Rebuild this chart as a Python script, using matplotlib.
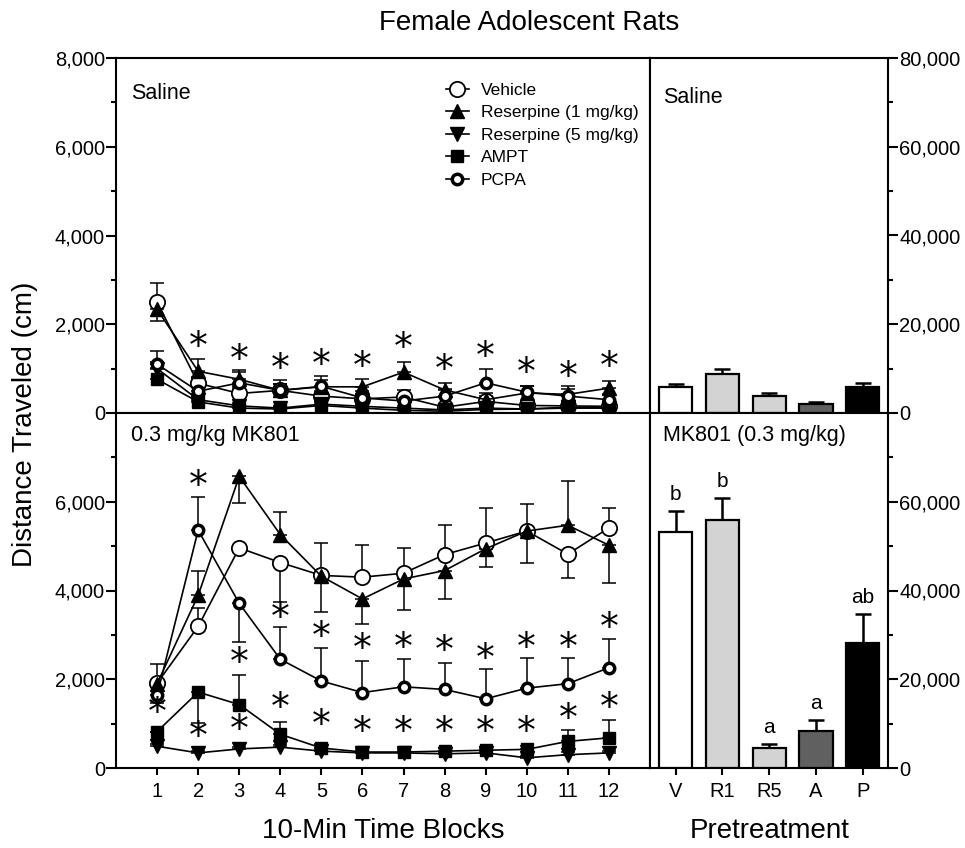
import numpy as np
import matplotlib
matplotlib.use("Agg")
import matplotlib.pyplot as plt
from matplotlib.ticker import FuncFormatter

plt.rcParams['font.family'] = ['Liberation Sans', 'DejaVu Sans']

blocks = np.arange(1, 13)

# saline, line panel
veh_sal = [2500, 670, 440, 510, 380, 320, 360, 130, 260, 170, 160, 150]
r1_sal = [2340, 940, 760, 510, 590, 590, 920, 520, 300, 450, 420, 560]
r5_sal = [1000, 300, 160, 110, 200, 150, 110, 70, 110, 90, 130, 110]
ampt_sal = [760, 250, 110, 90, 170, 110, 60, 40, 80, 90, 110, 110]
pcpa_sal = [1100, 490, 680, 510, 600, 340, 270, 380, 680, 470, 380, 300]

veh_sal_hi = [420, 150, 120, 240, 120, 100, 150, 80, 120, 80, 80, 80]
veh_sal_lo = [0] * 12
r1_sal_hi = [0, 280, 200, 150, 160, 170, 230, 150, 150, 150, 190, 150]
r1_sal_lo = [260, 0, 0, 0, 0, 0, 0, 0, 0, 0, 0, 0]
r5_sal_hi = [150, 80, 60, 50, 60, 50, 40, 40, 50, 40, 50, 40]
ampt_sal_hi = [250, 100, 60, 60, 80, 60, 40, 30, 50, 50, 50, 50]
pcpa_sal_hi = [290, 200, 250, 150, 225, 150, 120, 150, 320, 130, 150, 120]

# MK801, line panel
veh_mk = [1910, 3190, 4960, 4630, 4340, 4300, 4390, 4810, 5070, 5340, 4820, 5410]
r1_mk = [1900, 3890, 6570, 5260, 4320, 3810, 4260, 4450, 4940, 5340, 5470, 5020]
r5_mk = [490, 340, 430, 470, 380, 340, 340, 320, 340, 230, 300, 340]
ampt_mk = [820, 1710, 1430, 760, 450, 360, 360, 380, 400, 420, 600, 680]
pcpa_mk = [1640, 5360, 3710, 2450, 1960, 1700, 1830, 1770, 1560, 1800, 1900, 2260]

veh_mk_hi = [430, 410, 0, 0, 720, 730, 570, 660, 780, 610, 0, 450]
veh_mk_lo = [0, 0, 0, 900, 0, 0, 0, 0, 0, 0, 540, 0]
r1_mk_hi = [0, 540, 0, 500, 0, 0, 0, 0, 0, 0, 990, 0]
r1_mk_lo = [0, 0, 600, 0, 800, 570, 700, 640, 420, 720, 0, 850]
r5_mk_hi = [60, 50, 50, 50, 50, 40, 40, 40, 40, 40, 50, 50]
ampt_mk_hi = [0, 0, 660, 280, 100, 60, 60, 60, 60, 80, 260, 400]
ampt_mk_lo = [0, 690, 0, 0, 0, 0, 0, 0, 0, 0, 0, 0]
pcpa_mk_hi = [0, 750, 0, 720, 740, 720, 620, 600, 660, 670, 570, 640]
pcpa_mk_lo = [170, 0, 880, 0, 0, 0, 0, 0, 0, 0, 0, 0]

# significance stars
star_x_sal = [2, 3, 4, 5, 6, 7, 8, 9, 10, 11, 12]
star_y_sal = [1470, 1170, 980, 1060, 1020, 1440, 940, 1250, 870, 790, 1020]
star_x_mk = [2, 4, 5, 6, 7, 8, 9, 10, 11, 12,
             1, 2, 3, 3, 4, 5, 6, 7, 8, 9, 10, 11, 12]
star_y_mk = [6340, 3360, 2920, 2660, 2690, 2620, 2440, 2690, 2690, 3130,
             1210, 680, 2340, 830, 1320, 940, 790, 790, 790, 800, 800, 1090, 1320]

# totals (bars)
bar_labels = ['V', 'R1', 'R5', 'A', 'P']
sal_bar = [5870, 8720, 3760, 1960, 5870]
sal_err = [750, 1280, 830, 530, 900]
mk_bar = [53200, 55800, 4590, 8270, 28200]
mk_err = [4740, 5110, 900, 2480, 6540]
mk_letters = ['b', 'b', 'a', 'a', 'ab']
bar_colors = ['white', '#d3d3d3', '#d3d3d3', '#606060', 'black']

legend_names = ['Vehicle', 'Reserpine (1 mg/kg)', 'Reserpine (5 mg/kg)', 'AMPT', 'PCPA']

W, H = 965, 848
fig = plt.figure(figsize=(W / 100, H / 100), dpi=100)


def px_axes(x0, y0, x1, y1):
    return fig.add_axes([x0 / W, 1 - y1 / H, (x1 - x0) / W, (y1 - y0) / H])


ax_ts = px_axes(116, 58, 650, 413)
ax_bs = px_axes(116, 413, 650, 768)
ax_tb = px_axes(650, 58, 888, 413)
ax_bb = px_axes(650, 413, 888, 768)

fmt = FuncFormatter(lambda v, p: f'{v:,.0f}')

styles = [
    dict(marker='o', ms=11, mfc='white', mec='black', mew=1.3),
    dict(marker='^', ms=10, mfc='black', mec='black'),
    dict(marker='v', ms=10, mfc='black', mec='black'),
    dict(marker='s', ms=9, mfc='black', mec='black'),
    dict(marker='o', ms=7.5, mfc='white', mec='black', mew=2.5),
]


def draw_lines(ax, series, errs):
    handles = []
    order = [4, 3, 2, 1, 0]
    for i in order:
        lo, hi = errs[i]
        ax.errorbar(blocks, series[i], yerr=[lo, hi], fmt='none', ecolor='black',
                    elinewidth=1.1, capsize=5, capthick=1.1, zorder=2)
    for i in order:
        h, = ax.plot(blocks, series[i], color='black', lw=1.2, zorder=3 + i * 0.01,
                     label=legend_names[i], **styles[i])
        handles.append(h)
    return handles[::-1]


zeros = [0] * 12
h = draw_lines(ax_ts, [veh_sal, r1_sal, r5_sal, ampt_sal, pcpa_sal],
               [(veh_sal_lo, veh_sal_hi), (r1_sal_lo, r1_sal_hi), (zeros, r5_sal_hi),
                (zeros, ampt_sal_hi), (zeros, pcpa_sal_hi)])
draw_lines(ax_bs, [veh_mk, r1_mk, r5_mk, ampt_mk, pcpa_mk],
           [(veh_mk_lo, veh_mk_hi), (r1_mk_lo, r1_mk_hi), (zeros, r5_mk_hi),
            (ampt_mk_lo, ampt_mk_hi), (pcpa_mk_lo, pcpa_mk_hi)])

for sx, sy in zip(star_x_sal, star_y_sal):
    ax_ts.text(sx, sy, '*', ha='center', va='center', fontsize=27,
               family='DejaVu Sans', zorder=5)
for sx, sy in zip(star_x_mk, star_y_mk):
    ax_bs.text(sx, sy, '*', ha='center', va='center', fontsize=27,
               family='DejaVu Sans', zorder=5)

ax_ts.legend(handles=h, loc='upper left', bbox_to_anchor=(0.618, 0.93),
             frameon=False, fontsize=12.5, handlelength=1.3, handletextpad=0.7,
             labelspacing=0.42, borderpad=0, borderaxespad=0)

# bars
xb = np.arange(len(bar_labels))
for ax, vals, errs in [(ax_tb, sal_bar, sal_err), (ax_bb, mk_bar, mk_err)]:
    ax.bar(xb, vals, width=0.71, color=bar_colors, edgecolor='black', linewidth=1.6, zorder=3)
    ax.errorbar(xb, vals, yerr=[[0] * 5, errs], fmt='none', ecolor='black',
                elinewidth=1.8, capsize=6, capthick=1.8, zorder=2)
for x, v, e, t in zip(xb, mk_bar, mk_err, mk_letters):
    ax_bb.annotate(t, (x, v + e), xytext=(0, 5), textcoords='offset points',
                   ha='center', va='bottom', fontsize=15)

# axes styling
for ax in [ax_ts, ax_bs]:
    ax.set_xlim(0, 13)
    ax.set_ylim(0, 8000)
    ax.yaxis.set_major_formatter(fmt)
    ax.tick_params(axis='y', which='major', direction='out', length=7, width=1.5,
                   labelsize=14.5, pad=1)
    ax.tick_params(axis='y', which='minor', direction='out', length=3.5, width=1.5)
ax_ts.set_yticks(np.arange(0, 8001, 2000))
ax_ts.set_yticks(np.arange(1000, 8000, 2000), minor=True)
ax_bs.set_yticks(np.arange(0, 6001, 2000))
ax_bs.set_yticks(np.arange(1000, 8000, 2000), minor=True)
ax_ts.set_xticks([])
ax_bs.set_xticks(blocks)
ax_bs.tick_params(axis='x', direction='out', length=5, width=1.5, labelsize=14.5, pad=5)

for ax in [ax_tb, ax_bb]:
    ax.set_xlim(-0.55, 4.54)
    ax.set_ylim(0, 80000)
    ax.yaxis.tick_right()
    ax.yaxis.set_major_formatter(fmt)
    ax.tick_params(axis='y', which='major', direction='out', length=7, width=1.5,
                   labelsize=14.5, pad=1, left=False, right=True)
    ax.tick_params(axis='y', which='minor', direction='out', length=3.5, width=1.5,
                   left=False, right=True)
ax_tb.set_yticks(np.arange(0, 80001, 20000))
ax_tb.set_yticks(np.arange(10000, 80000, 20000), minor=True)
ax_bb.set_yticks(np.arange(0, 60001, 20000))
ax_bb.set_yticks(np.arange(10000, 80000, 20000), minor=True)
ax_tb.set_xticks([])
ax_bb.set_xticks(xb)
ax_bb.set_xticklabels(bar_labels)
ax_bb.tick_params(axis='x', direction='out', length=5, width=1.5, labelsize=14.5, pad=5)

for ax in [ax_ts, ax_bs, ax_tb, ax_bb]:
    for s in ax.spines.values():
        s.set_linewidth(1.5)
        s.set_color('black')

ax_ts.text(0.028, 0.90, 'Saline', transform=ax_ts.transAxes, fontsize=15.5, va='center')
ax_bs.text(0.028, 0.937, '0.3 mg/kg MK801', transform=ax_bs.transAxes, fontsize=15.5, va='center')
ax_tb.text(0.055, 0.89, 'Saline', transform=ax_tb.transAxes, fontsize=15.5, va='center')
ax_bb.text(0.055, 0.937, 'MK801 (0.3 mg/kg)', transform=ax_bb.transAxes, fontsize=15.5, va='center')

fig.text(529 / W, 1 - 23 / H, 'Female Adolescent Rats', ha='center', va='center', fontsize=20)
fig.text(25 / W, 1 - 424 / H, 'Distance Traveled (cm)', ha='center', va='center',
         rotation=90, fontsize=20)
fig.text(383 / W, 1 - 831 / H, '10-Min Time Blocks', ha='center', va='center', fontsize=20)
fig.text(770 / W, 1 - 831 / H, 'Pretreatment', ha='center', va='center', fontsize=20)

fig.savefig('out.png', dpi=100)
